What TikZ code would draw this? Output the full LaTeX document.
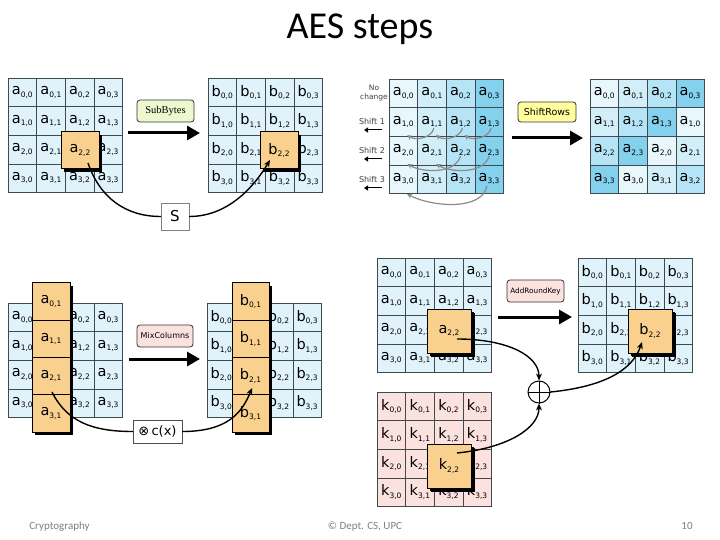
\documentclass[tikz,border=0pt]{standalone}
\usepackage{fontspec}
\setmainfont{Carlito}
\newfontfamily\cellf{DejaVu Sans}
\newfontfamily\serf{Liberation Serif}
\usetikzlibrary{arrows.meta,shadows}
\definecolor{lblue}{HTML}{E0F3FB}
\definecolor{orng}{HTML}{FAD08E}
\definecolor{lpink}{HTML}{FCE2DE}
\definecolor{sbfill}{HTML}{EDF8CF}
\definecolor{srfill}{HTML}{FFFF9E}
\definecolor{sr0}{HTML}{E8F7FC}
\definecolor{sr1}{HTML}{D2EFF9}
\definecolor{sr2}{HTML}{B5E4F6}
\definecolor{sr3}{HTML}{84D1EE}
\definecolor{gridc}{HTML}{3F4A50}
\definecolor{foot}{HTML}{808080}
\definecolor{arcg}{HTML}{8A8A8A}
\newcommand{\lab}[3]{{\fontsize{14.5}{14.5}\selectfont #1}\raisebox{-2.5pt}{\fontsize{7.5}{7.5}\selectfont #2,#3}}
\makeatletter
\newcommand{\mkgrid}[6]{%
 \foreach \i in {0,1,2,3}{\foreach \j in {0,1,2,3}{%
  \edef\curcell{,\i-\j,}%
  \def\skiplist{,#6,}%
  \expandafter\expandafter\expandafter\in@\expandafter\expandafter\expandafter{\expandafter\curcell\expandafter}\expandafter{\skiplist}%
  \ifin@
   \node[cell,fill=#5] (#1-\i-\j) at ({#2+(\j+0.5)*28.6},{#3+(\i+0.5)*28.6}) {};
  \else
   \node[cell,fill=#5] (#1-\i-\j) at ({#2+(\j+0.5)*28.6},{#3+(\i+0.5)*28.6}) {\lab{#4}{\i}{\j}};
  \fi}}%
 \draw[gridc,line width=0.9pt] (#2,#3) rectangle ++(114.4,114.4);}
\makeatother
\begin{document}
\begin{tikzpicture}[x=1pt,y=-1pt,
  cell/.style={draw=gridc,line width=0.5pt,minimum width=28.6pt,minimum height=28.6pt,inner sep=0pt,font=\cellf},
  hl/.style={draw=black,line width=1pt,fill=orng,inner sep=0pt,font=\cellf,
     general shadow={fill=black,shadow xshift=3pt,shadow yshift=-3pt}},
  hlb/.style={hl,minimum width=38pt,minimum height=37pt},
  hlc/.style={draw=black,line width=1pt,fill=orng,inner sep=0pt,font=\cellf,minimum width=38pt,minimum height=37.25pt},
  hlk/.style={hl,minimum width=44pt,minimum height=44pt,general shadow={fill=black,shadow xshift=4pt,shadow yshift=-4pt}},
  opbox/.style={draw=black!80,rounded corners=3pt,line width=0.8pt,inner sep=1pt},
  bigarrow/.style={line width=3pt,-{Triangle[length=13pt,width=14pt]}},
  curve/.style={line width=1.4pt,-{Stealth[length=7pt,width=6pt]}},
  arc/.style={arcg,line width=1.2pt,-{Stealth[length=5pt,width=5pt]}},
  small/.style={font=\cellf\fontsize{8}{9}\selectfont,text=black!75}]
\useasboundingbox (0,0) rectangle (720,540);
\fill[white] (0,0) rectangle (720,540);
% title
\node[anchor=base,font=\fontsize{38}{38}\selectfont] (title) at (360,39) {AES steps};
% ---------- SubBytes ----------
\mkgrid{SA}{8}{78}{a}{lblue}{2-2}
\mkgrid{SB}{208}{78}{b}{lblue}{2-2}
\node[hlb] (sa) at (80,150.5) {\lab{a}{2}{2}};
\node[hlb] (sbb) at (279,150.5) {\lab{b}{2}{2}};
\node[opbox,fill=sbfill,font=\serf\fontsize{10.5}{10.5}\selectfont,minimum width=57pt,minimum height=22pt] (sbox) at (165.5,111) {SubBytes};
\coordinate (sb1) at (128,133); \coordinate (sb2) at (200,133);
\draw[bigarrow] (sb1) -- (sb2);
\node[draw=gray,fill=white,minimum width=28pt,minimum height=27pt,inner sep=0pt,font=\cellf\fontsize{15}{15}\selectfont] (S) at (175,216.5) {S};
\coordinate (s1) at (88,163); \coordinate (s2) at (270,160);
\draw[line width=1.4pt] (s1) .. controls +(12,35) and +(-35,0) .. (S.west);
\draw[curve] (S.east) .. controls +(40,0) and +(-15,25) .. (s2);
% ---------- ShiftRows ----------
\foreach \i in {0,1,2,3}{\foreach \j in {0,1,2,3}{%
  \node[cell,fill=sr\j] (L-\i-\j) at ({389+(\j+0.5)*28.6},{79+(\i+0.5)*28.6}) {\lab{a}{\i}{\j}};
  \pgfmathtruncatemacro\k{mod(\j+\i,4)}
  \node[cell,fill=sr\k] (R-\i-\j) at ({590+(\j+0.5)*28.6},{79+(\i+0.5)*28.6}) {\lab{a}{\i}{\k}};}}
\draw[gridc,line width=0.9pt] (389,79) rectangle ++(114.4,114.4);
\draw[gridc,line width=0.9pt] (590,79) rectangle ++(114.4,114.4);
\node[small,align=center,font=\cellf\fontsize{7.5}{9}\selectfont] (nc) at (374,93) {No\\change};
\node[small] (sh1) at (372,122) {Shift 1};
\node[small] (sh2) at (372,151) {Shift 2};
\node[small] (sh3) at (372,180) {Shift 3};
\foreach \y/\n in {130/1,159/2,188/3}{
  \coordinate (shA\n) at (382,\y); \coordinate (shB\n) at (364,\y);
  \draw[line width=1pt,-{Triangle[length=4pt,width=5pt]}] (shA\n) -- (shB\n);}
% row 1 arcs
\foreach \j/\x in {1/431.9,2/460.5,3/489.1}{
  \coordinate (r1s\j) at (\x+2,128); \coordinate (r1e\j) at (\x-24.6,135);
  \draw[arc] (r1s\j) .. controls +(-2,10) and +(8,6) .. (r1e\j);}
% row 2 arcs
\foreach \j/\x in {2/460.5,3/489.1}{
  \coordinate (r2s\j) at (\x,156); \coordinate (r2e\j) at (\x-53,164);
  \draw[arc] (r2s\j) .. controls +(-5,18) and +(15,9) .. (r2e\j);}
% row 3 arc
\coordinate (r3s) at (487,186); \coordinate (r3e) at (407,194);
\draw[arc] (r3s) .. controls +(-5,25) and +(25,13) .. (r3e);
\node[opbox,fill=srfill,font=\cellf\fontsize{9.5}{9.5}\selectfont,minimum width=58pt,minimum height=20pt,inner sep=0pt] (srbox) at (547,112) {ShiftRows};
\coordinate (sr1) at (512,138); \coordinate (sr2) at (583,138);
\draw[bigarrow] (sr1) -- (sr2);
% ---------- MixColumns ----------
\mkgrid{MA}{8}{303}{a}{lblue}{0-1,1-1,2-1,3-1}
\mkgrid{MB}{207}{303}{b}{lblue}{0-1,1-1,2-1,3-1}
\fill[black] (35,286) rectangle (73,435);
\fill[black] (235,286) rectangle (272,435);
\foreach \i/\y in {0/301.6,1/338.9,2/376.1,3/413.4}{
  \node[hlc] (mca\i) at (51,\y) {\lab{a}{\i}{1}};
  \node[hlc,minimum width=37pt] (mcb\i) at (250.5,\y) {\lab{b}{\i}{1}};}
\node[opbox,fill=lpink,font=\cellf\fontsize{8}{9}\selectfont,minimum width=56pt,minimum height=22pt,inner sep=0pt] (mcbox) at (165,336) {MixColumns};
\coordinate (mc1) at (129,359); \coordinate (mc2) at (200,359);
\draw[bigarrow] (mc1) -- (mc2);
\node[draw=gray!60!black,fill=white,minimum width=49pt,minimum height=23pt,inner sep=0pt,font=\cellf\fontsize{13}{13}\selectfont] (cx) at (157.5,431.5) {⊗\,c(x)};
\coordinate (m1) at (52,392); \coordinate (m2) at (252,388);
\draw[line width=1.4pt] (m1) .. controls +(15,30) and +(-40,0) .. (cx.west);
\draw[curve] (cx.east) .. controls +(45,0) and +(-10,25) .. (m2);
% ---------- AddRoundKey ----------
\mkgrid{KA}{377}{258}{a}{lblue}{2-2}
\mkgrid{KB}{578}{258}{b}{lblue}{2-2}
\mkgrid{KK}{377}{392}{k}{lpink}{2-2}
\node[hlk] (ka) at (449,331) {\lab{a}{2}{2}};
\node[hlk] (kb) at (650,331) {\lab{b}{2}{2}};
\node[hlk] (kk) at (449,466) {\lab{k}{2}{2}};
\node[opbox,fill=lpink,font=\cellf\fontsize{7.3}{9}\selectfont,minimum width=57pt,minimum height=22pt,inner sep=0pt] (akbox) at (535.5,291) {AddRoundKey};
\coordinate (ak1) at (498,317); \coordinate (ak2) at (572,317);
\draw[bigarrow] (ak1) -- (ak2);
\node[draw=black,line width=1pt,circle,minimum size=22pt,inner sep=0pt,fill=white] (xo) at (539,392) {};
\draw[line width=1pt] (xo.north) -- (xo.south) (xo.west) -- (xo.east);
\coordinate (x1) at (457,339); \coordinate (x2) at (457,453); \coordinate (x3) at (642,342);
\draw[curve] (x1) .. controls +(50,0) and +(0,-25) .. (xo.north);
\draw[curve] (x2) .. controls +(50,-5) and +(0,25) .. (xo.south);
\draw[curve] (xo.east) .. controls +(50,-5) and +(-10,30) .. (x3);
% ---------- footer ----------
\node[anchor=base,text=foot,font=\fontsize{11}{11}\selectfont] (f1) at (59.5,529) {Cryptography};
\node[anchor=base,text=foot,font=\fontsize{11}{11}\selectfont] (f2) at (365,529) {© Dept. CS, UPC};
\node[anchor=base,text=foot,font=\fontsize{11}{11}\selectfont] (f3) at (687,529) {10};
\end{tikzpicture}
\end{document}
